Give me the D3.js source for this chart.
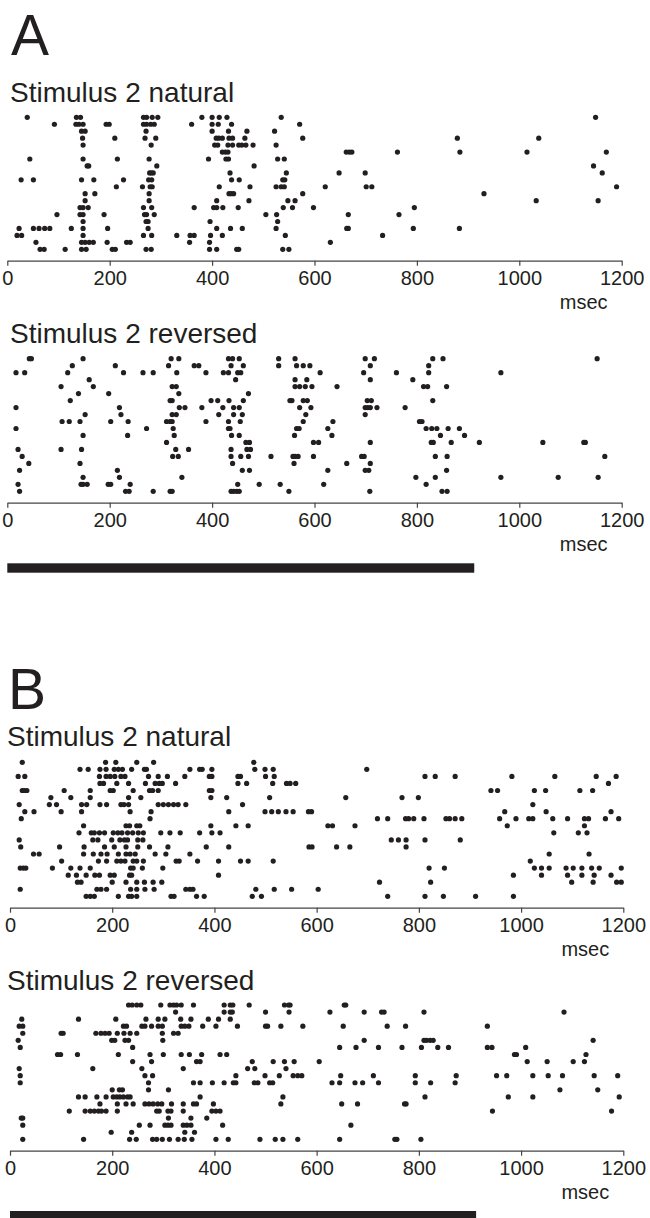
<!DOCTYPE html>
<html>
<head>
<meta charset="utf-8">
<script src="https://cdn.jsdelivr.net/npm/d3@7"></script>
<style>
  body { margin: 0; background: #fff; }
  svg { display: block; }
  text { font-family: "Liberation Sans", Arial, Helvetica, sans-serif; fill: #231f20; }
</style>
</head>
<body>
<div id="chart"></div>
<script>
// spike times (msec), one inner array per trial (row), top row first
const aNatural = [
  [39,135,143,266,272,283,294,380,400,414,429,535,1149],
  [92,134,140,148,193,199,266,272,280,287,360,400,412,438,571],
  [145,152,271,400,432,468,522],
  [147,210,269,290,408,413,420,433,440,464,577,879,1038],
  [148,281,405,411,431,440,452,458,466,480,525],
  [420,426,431,662,668,673,762,884,1015,1170],
  [44,148,215,277,393,427,432,528,541],
  [156,159,292,482,1145],
  [278,281,285,435,545,648,699,1162],
  [27,51,145,169,227,276,282,438,453,538,542],
  [213,264,279,283,414,474,525,535,541,621,701,712,1190],
  [152,171,277,433,437,442,577,931],
  [152,277,409,472,548,562,1033,1154],
  [142,148,158,266,282,365,403,409,421,451,539,557,598,795],
  [97,142,148,189,268,272,287,505,526,666,765],
  [148,271,275,396,528],
  [23,51,62,73,83,125,148,196,275,409,436,459,525,663,666,793,883],
  [19,28,148,266,282,331,357,365,397,420,543,733],
  [56,145,152,160,168,195,233,240,356,395,631],
  [64,72,113,145,154,205,211,271,281,395,409,448,452,538,550]
];

const aReversed = [
  [43,47,148,320,335,432,440,453,530,562,699,717,831,851,1152],
  [127,211,315,365,374,437,461,530,565,578,591,709,823],
  [17,34,118,227,265,285,331,388,422,432,450,456,611,696,760,823,964],
  [160,446,562,585,709,792],
  [105,168,322,330,562,571,582,595,644,813,821,858],
  [139,198,335,471],
  [123,318,322,398,411,433,461,552,556,578,586,703,711,831],
  [17,219,336,347,380,421,442,453,571,593,699,704,709,722,777],
  [152,222,322,330,413,442,459,583,699],
  [107,121,142,202,236,311,318,322,388,432,455,578,636,805,810],
  [17,272,324,432,435,565,570,626,818,829,839,861,883],
  [148,235,326,438,453,561,634,846,893],
  [311,466,473,598,608,709,828,832,867,922,1046,1126,1129],
  [21,105,145,329,354,437,468,475],
  [29,323,334,437,456,471,515,558,562,568,598,692,697,836,859,1167],
  [42,142,440,560,663,709],
  [24,215,459,473,626,699,706,858],
  [148,219,341,798,836,964,1076,1154],
  [21,144,148,156,197,202,240,450,492,533,618,818],
  [24,231,238,285,318,322,437,442,448,453,550,708,849,859]
];

const bNatural = [
  [24,187,207,248,281,477],
  [137,153,176,188,204,212,220,238,263,267,352,371,376,395,479,499,515,698],
  [16,29,175,188,196,205,217,225,271,290,308,342,390,395,446,451,500,517,812,832,871,982,1066,1147,1186],
  [176,183,209,232,265,284,292,298,324,446,463,514,541,548,559,1171],
  [24,28,33,106,157,196,202,241,273,279,290,390,395,941,954,1026,1048,1115,1140],
  [80,119,157,232,256,393,424,508,657,767,799],
  [18,77,91,140,150,176,189,217,223,232,290,300,310,320,329,344,455,1023],
  [29,47,100,140,235,276,428,499,512,525,540,554,584,590,968,1049,1176],
  [22,274,719,739,774,780,790,810,853,860,871,884,958,990,1015,1023,1062,1091,1124,1132,1165,1191],
  [144,227,234,248,254,393,442,466,622,631,675,973,1124],
  [135,159,165,175,185,202,211,219,230,240,251,261,295,313,333,371,395,411,1064,1112,1129],
  [18,162,172,199,215,224,230,250,260,746,760,775,812,881],
  [21,97,145,185,204,227,250,273,309,384,428,585,591,639,665,775],
  [46,57,144,163,178,190,212,227,235,245,284,305,352,1055,1133],
  [101,173,189,209,217,225,241,248,261,325,331,367,408,451,466,515,1018],
  [20,26,31,83,119,137,157,236,241,259,299,820,850,1026,1040,1055,1088,1102,1119,1138,1153,1196],
  [114,130,149,166,175,196,204,234,238,408,985,1040,1091,1119,1143,1176],
  [132,139,200,227,248,263,280,297,723,823,1099,1141,1187,1196],
  [20,170,178,189,236,248,264,282,344,352,358,481,517,551,603],
  [149,157,165,212,232,238,248,315,321,365,380,474,492,739,812,848,911,985]
];

const bReversed = [
  [232,239,248,256,295,313,320,326,335,359,419,431,436,468,537,545,548,654,657],
  [324,419,431,435,500,546,626,693,727,732,810,1084],
  [23,134,207,266,290,303,334,354,388,408,431],
  [18,25,222,228,258,264,277,290,298,335,342,350,377,403,445,500,504,530,573,652,738,774,934],
  [25,100,104,168,178,186,194,210,223,235,248,298,320,329],
  [16,199,205,225,232,299,693,810,815,822,828,1141],
  [20,240,645,677,721,767,805,837,858,934,943,1009],
  [93,99,132,212,274,300,335,351,375,411,424,987,991,1127],
  [240,277,365,372,474,515,537,556,605,1012,1051,1102,1124],
  [18,162,258,339,465,479,540],
  [20,264,279,442,499,527,554,563,571,647,711,793,873,952,972,1023,1053,1081,1143,1189],
  [20,271,359,372,396,419,437,442,478,485,508,514,630,645,675,690,721,793,823,871],
  [200,214,220,271,310,1076,1150],
  [134,147,170,188,202,209,215,222,230,235,372,534,812,975,1023,1192],
  [176,210,227,241,264,272,280,289,297,316,339,359,365,398,530,649,680,772,775],
  [116,147,157,165,173,179,188,210,287,292,309,315,339,395,403,411,944,1177],
  [22,25,310,354,385],
  [25,253,274,303,309,315,339,346,354,416,667],
  [198,238,342,361],
  [25,144,234,247,279,287,298,312,329,341,356,403,427,489,519,534,563,645,753,757,804]
];

const tickValues = [0, 200, 400, 600, 800, 1000, 1200];
const panelTitles = ["Stimulus 2 natural", "Stimulus 2 reversed", "Stimulus 2 natural", "Stimulus 2 reversed"];
const stimulusEnd = 912; // msec, black bar under each pair
const unitLabel = "msec";

const W = 650, H = 1218;
const ink = "#231f20";

const svg = d3.select("#chart").append("svg")
  .attr("width", W)
  .attr("height", H);

// panel placement (pixels)
const panels = [
  { data: aNatural,  title: panelTitles[0], titleX: 10, titleY: 101.5, top: 117.3, bottom: 249.3, axisY: 260.7, x0: 7.3, x1: 621.7 },
  { data: aReversed, title: panelTitles[1], titleX: 10, titleY: 343,   top: 358.7, bottom: 491.3, axisY: 502.7, x0: 7.3, x1: 621.7 },
  { data: bNatural,  title: panelTitles[2], titleX: 7,  titleY: 746,   top: 762.3, bottom: 896.3, axisY: 907.7, x0: 10,  x1: 623.3 },
  { data: bReversed, title: panelTitles[3], titleX: 7,  titleY: 990,   top: 1005,  bottom: 1139.3, axisY: 1150.7, x0: 10, x1: 623.3 }
];

function drawPanel(p) {
  const x = d3.scaleLinear().domain([0, 1200]).range([p.x0, p.x1]);
  const y = d3.scaleLinear().domain([0, p.data.length - 1]).range([p.top, p.bottom]);

  svg.append("text")
    .attr("x", p.titleX)
    .attr("y", p.titleY)
    .attr("font-size", 28)
    .text(p.title);

  // flatten trials into [time, trial] pairs
  var spikes = [];
  p.data.forEach((row, i) => row.forEach(t => spikes.push([t, i])));

  svg.append("g")
    .selectAll("circle")
    .data(spikes)
    .join("circle")
    .attr("cx", d => x(d[0]))
    .attr("cy", d => y(d[1]))
    .attr("r", 2.6)
    .attr("fill", ink);

  const ax = svg.append("g")
    .attr("transform", `translate(0,${p.axisY})`)
    .call(d3.axisBottom(x).tickValues(tickValues).tickSize(5).tickSizeOuter(0).tickPadding(5).tickFormat(d3.format("d")));
  ax.select(".domain").attr("stroke", "#444").attr("stroke-width", 1.2);
  ax.selectAll(".tick line").attr("stroke", "#444").attr("stroke-width", 1.2);
  ax.selectAll(".tick text")
    .attr("font-size", 20)
    .attr("font-family", "Liberation Sans, Arial, sans-serif")
    .attr("fill", ink);

  svg.append("text")
    .attr("x", x(1200) - 38)
    .attr("y", p.axisY + 48.5)
    .attr("text-anchor", "middle")
    .attr("font-size", 20)
    .text(unitLabel);

  return x;
}

const xs = panels.map(drawPanel);

// stimulus bars
const bars = [
  { x: xs[1], y: 563.3 },
  { x: xs[3], y: 1211 }
];
bars.forEach(b => {
  svg.append("rect")
    .attr("x", b.x(0))
    .attr("y", b.y)
    .attr("width", b.x(stimulusEnd) - b.x(0))
    .attr("height", 9.4)
    .attr("fill", ink);
});

// panel letters
svg.append("text").attr("x", 11).attr("y", 55).attr("font-size", 57).text("A");
svg.append("text").attr("x", 8).attr("y", 709).attr("font-size", 57).text("B");
</script>
</body>
</html>
